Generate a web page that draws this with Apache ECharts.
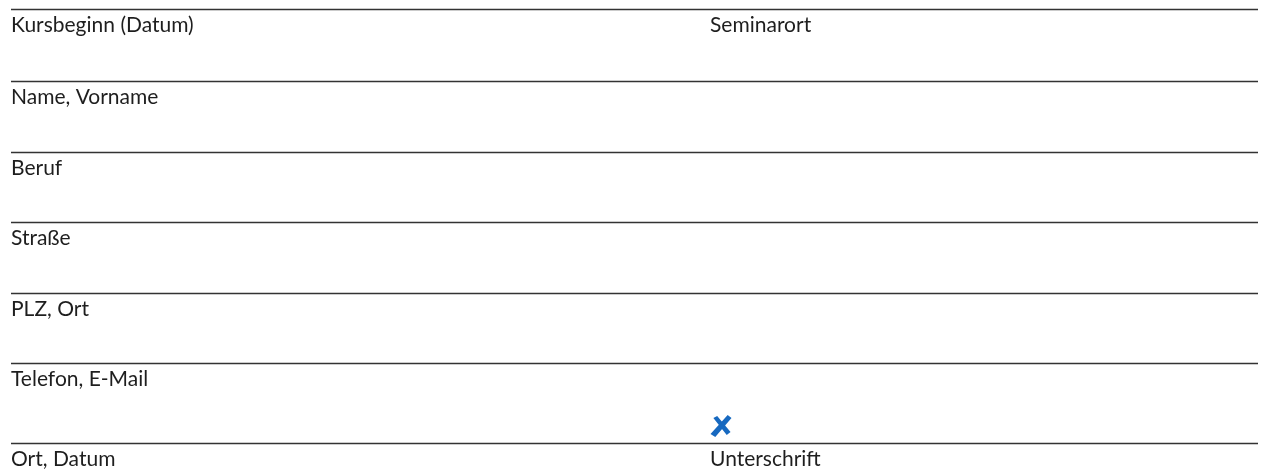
<!DOCTYPE html>
<html lang="de">
<head>
    <meta charset="UTF-8">
    <title>Anmeldeformular</title>
    <style>
        html, body { margin: 0; padding: 0; background: #fff; }
        #form { width: 1264px; height: 470px; }
    </style>
</head>
<body>
<div id="form"></div>
<script src="https://cdn.jsdelivr.net/npm/echarts@6/dist/echarts.min.js"></script>
<script>
// Feldbeschriftungen links / rechts, je Zeile
var leftLabels = ['Kursbeginn (Datum)', 'Name, Vorname', 'Beruf', 'Straße', 'PLZ, Ort', 'Telefon, E-Mail', 'Ort, Datum'];
var rightLabels = ['Seminarort', '', '', '', '', '', 'Unterschrift'];
// y-Lage der Linien (in px-Einheiten der Achse)
var ruleY = [9, 81, 152, 222, 293, 363, 443];
var ruleX = [11, 1258];
var columnX = [11, 710];
// Unterschrift-Kreuz
var signX = 721;
var signY = 426;

var labelData = [];
leftLabels.forEach(function (t, i) {
  labelData.push({ value: [columnX[0], ruleY[i]], name: t });
  if (rightLabels[i]) labelData.push({ value: [columnX[1], ruleY[i]], name: rightLabels[i] });
});

var chart = echarts.init(document.getElementById('form'));
chart.setOption({
  animation: false,
  grid: { left: 0, right: 0, top: 0, bottom: 0 },
  xAxis: { type: 'value', min: 0, max: 1264, show: false },
  yAxis: { type: 'value', min: 0, max: 470, inverse: true, show: false },
  series: [
    {
      type: 'scatter',
      symbolSize: 0,
      data: labelData,
      itemStyle: { opacity: 1 },
      label: {
        show: true, position: 'right', distance: 0, offset: [0, 16],
        formatter: function (p) { return p.name; },
        fontFamily: 'Lato', fontSize: 21, color: '#1e1e1e'
      },
      markLine: {
        silent: true, symbol: 'none',
        label: { show: false },
        lineStyle: { type: 'solid', color: '#333', width: 1.3, opacity: 1 },
        data: ruleY.map(function (y) { return [{ coord: [ruleX[0], y] }, { coord: [ruleX[1], y] }]; })
      }
    },
    {
      type: 'scatter',
      data: [[signX, signY]],
      symbol: 'path://M18,0 L22,3 L5,22 L0,19 Z M3,3 L7,1 L21,17 L17,20 Z',
      symbolSize: [21, 22],
      itemStyle: { color: '#1769c0', opacity: 1 }
    }
  ]
});
</script>
</body>
</html>
